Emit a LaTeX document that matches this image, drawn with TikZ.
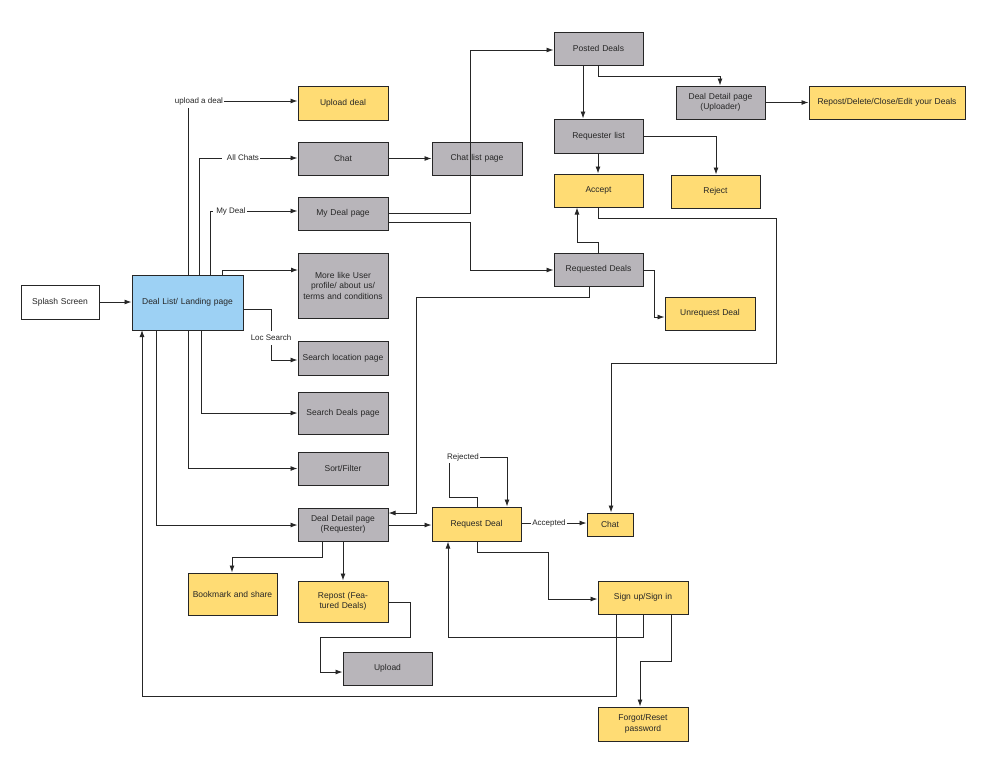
\documentclass[tikz,border=0pt]{standalone}
\usepackage{fontspec}
\setmainfont{Liberation Sans}
\usetikzlibrary{arrows.meta}
\definecolor{gy}{HTML}{B8B5BA}
\definecolor{yl}{HTML}{FFDC74}
\definecolor{bl}{HTML}{9DD1F4}
\begin{document}
\begin{tikzpicture}[x=1pt,y=-1pt,
  box/.style={draw=black!85,line width=1pt,align=center,inner sep=1pt,font=\fontsize{8.5}{10.5}\selectfont,text=black!85},
  G/.style={box,fill=gy}, Y/.style={box,fill=yl},
  e/.style={draw=black!85,line width=0.9pt,-{Latex[length=7pt,width=5pt]}},
  l/.style={draw=black!85,line width=0.9pt},
  lab/.style={fill=white,inner sep=1pt,font=\fontsize{8}{10}\selectfont,text=black!85}]
\useasboundingbox (0,0) rectangle (1000,766);
\newcommand{\bx}[7]{\node[#1,minimum width=#4-#2,minimum height=#5-#3,text width=#4-#2-6] (#6) at ({(#2+#4)/2},{(#3+#5)/2}) {#7};}
\bx{box,fill=white}{21}{285}{99}{319}{sp}{Splash Screen}
\bx{box,fill=bl}{132}{275}{243}{330}{dl}{Deal List/ Landing page}
\bx{Y}{298}{86}{388}{120}{ud}{Upload deal}
\bx{G}{298}{142}{388}{175}{ch}{Chat}
\bx{G}{432}{142}{522}{175}{cl}{Chat list page}
\bx{G}{298}{197}{388}{230}{md}{My Deal page}
\bx{G}{298}{253}{388}{318}{ml}{More like User profile/ about us/ terms and conditions}
\bx{G}{298}{341}{388}{375}{sl}{Search location page}
\bx{G}{298}{392}{388}{434}{sd}{Search Deals page}
\bx{G}{298}{452}{388}{485}{sf}{Sort/Filter}
\bx{G}{554}{32}{643}{65}{pd}{Posted Deals}
\bx{G}{676}{86}{765}{119}{du}{Deal Detail page (Uploader)}
\bx{Y}{809}{86}{965}{119}{rd}{Repost/Delete/Close/Edit your Deals}
\bx{G}{554}{119}{643}{153}{rl}{Requester list}
\bx{Y}{554}{174}{643}{207}{ac}{Accept}
\bx{Y}{671}{175}{760}{208}{rj}{Reject}
\bx{G}{554}{253}{643}{286}{rq}{Requested Deals}
\bx{Y}{665}{297}{755}{330}{ur}{Unrequest Deal}
\bx{G}{298}{508}{388}{541}{dr}{Deal Detail page (Requester)}
\bx{Y}{432}{507}{521}{541}{rqd}{Request Deal}
\bx{Y}{587}{513}{633}{536}{c2}{Chat}
\bx{Y}{188}{573}{277}{615}{bm}{Bookmark and share}
\bx{Y}{298}{581}{388}{622}{rp}{Repost (Featured Deals)}
\bx{G}{343}{652}{432}{685}{up}{Upload}
\bx{Y}{598}{581}{688}{614}{si}{Sign up/Sign in}
\bx{Y}{598}{707}{688}{741}{fg}{Forgot/Reset password}
% edges
\draw[e] (sp.east) -- (dl.west |- sp.east);
\draw[l] (188,275) -- (188,108);
\node[lab] (L1) at (199,101) {upload a deal};
\draw[e] (L1.east) -- (ud.west |- L1.east);
\draw[l] (199,275) -- (199,158) -- (222,158);
\node[lab] (L2) at (243,158) {All Chats};
\draw[e] (L2.east) -- (ch.west |- L2.east);
\draw[l] (210,275) -- (210,211) -- (213,211);
\node[lab] (L3) at (231,211) {My Deal};
\draw[e] (L3.east) -- (md.west |- L3.east);
\draw[e] (222,275) -- (222,270) -- (298,270);
\draw[l] (243,309) -- (271,309) -- (271,331);
\node[lab] (L4) at (271,338) {Loc Search};
\draw[e] (271,345) -- (271,360) -- (sl.west |- 0,360);
\draw[e] (201,330) |- (sd.west);
\draw[e] (188,330) |- (sf.west);
\draw[e] (156,330) |- (dr.west |- 0,525);
\draw[e] (616,614) -- (616,696) -- (142,696) -- (142,330);
\draw[e] (ch.east) -- (cl.west);
\draw[e] (388,213) -- (470,213) -- (470,50) -- (pd.west |- 0,50);
\draw[e] (388,222) -- (470,222) -- (470,270) -- (rq.west |- 0,270);
\draw[e] (598,65) -- (598,76) -- (720,76) -- (du.north -| 720,0);
\draw[e] (583,65) -- (rl.north -| 583,0);
\draw[e] (du.east) -- (rd.west |- du.east);
\draw[e] (598,153) -- (ac.north -| 598,0);
\draw[e] (643,136) -- (716,136) -- (rj.north -| 716,0);
\draw[e] (598,253) -- (598,242) -- (577,242) -- (ac.south -| 577,0);
\draw[e] (643,270) -- (654,270) -- (654,317) -- (ur.west |- 0,317);
\draw[e] (589,286) -- (589,297) -- (416,297) -- (416,513) -- (dr.east |- 0,513);
\draw[e] (598,207) -- (598,218) -- (776,218) -- (776,363) -- (611,363) -- (c2.north -| 611,0);
\draw[e] (dr.east |- 0,525) -- (rqd.west |- 0,525);
\draw[l] (477,507) -- (477,497) -- (449,497) -- (449,463);
\node[lab] (L5) at (463,457) {Rejected};
\draw[e] (L5.east) -- (507,457) -- (rqd.north -| 507,0);
\node[lab] (L6) at (549,523) {Accepted};
\draw[l] (rqd.east |- L6) -- (L6.west);
\draw[e] (L6.east) -- (c2.west |- L6);
\draw[e] (477,541) -- (477,552) -- (548,552) -- (548,599) -- (si.west |- 0,599);
\draw[e] (643,614) -- (643,637) -- (448,637) -- (rqd.south -| 448,0);
\draw[e] (671,614) -- (671,661) -- (640,661) -- (fg.north -| 640,0);
\draw[e] (322,541) -- (322,557) -- (232,557) -- (bm.north -| 232,0);
\draw[e] (343,541) -- (rp.north -| 343,0);
\draw[e] (388,602) -- (410,602) -- (410,637) -- (320,637) -- (320,672) -- (up.west |- 0,672);
\end{tikzpicture}
\end{document}
